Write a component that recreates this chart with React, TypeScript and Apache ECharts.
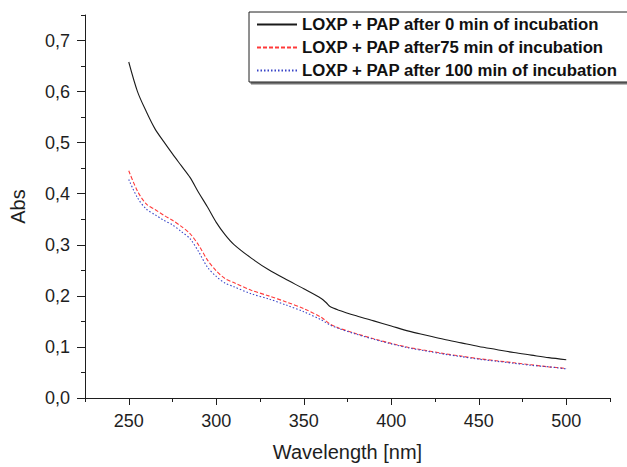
import React, { useEffect, useRef } from "react";
import * as echarts from "echarts";

const wavelengths = [250, 255, 260, 265, 270, 275, 280, 285, 290, 295, 300, 305, 310, 320, 330, 340, 350, 360, 363, 365, 370, 380, 390, 400, 410, 420, 430, 440, 450, 460, 470, 480, 490, 500];

const abs0min = [0.658, 0.600, 0.561, 0.527, 0.502, 0.478, 0.455, 0.432, 0.402, 0.374, 0.344, 0.320, 0.301, 0.274, 0.251, 0.232, 0.214, 0.195, 0.186, 0.179, 0.172, 0.161, 0.151, 0.141, 0.131, 0.123, 0.115, 0.108, 0.101, 0.095, 0.089, 0.084, 0.079, 0.075];

const abs75min = [0.445, 0.405, 0.380, 0.369, 0.358, 0.348, 0.336, 0.322, 0.299, 0.270, 0.249, 0.234, 0.226, 0.211, 0.200, 0.188, 0.175, 0.158, 0.150, 0.145, 0.137, 0.126, 0.116, 0.107, 0.099, 0.093, 0.087, 0.082, 0.077, 0.073, 0.069, 0.065, 0.061, 0.058];

const abs100min = [0.428, 0.392, 0.370, 0.359, 0.348, 0.339, 0.326, 0.312, 0.286, 0.256, 0.238, 0.225, 0.218, 0.204, 0.194, 0.182, 0.169, 0.153, 0.147, 0.143, 0.136, 0.125, 0.115, 0.106, 0.098, 0.092, 0.086, 0.081, 0.076, 0.072, 0.068, 0.064, 0.061, 0.057];

const seriesNames = [
  "LOXP + PAP after 0 min of incubation",
  "LOXP + PAP after75 min of incubation",
  "LOXP + PAP after 100 min of incubation",
];

const xMajorTicks = [250, 300, 350, 400, 450, 500];
const xMinorTicks = [225, 275, 325, 375, 425, 475, 525];
const yMajorTicks = [0, 0.1, 0.2, 0.3, 0.4, 0.5, 0.6, 0.7];
const yMinorTicks = [0.05, 0.15, 0.25, 0.35, 0.45, 0.55, 0.65, 0.75];

const FONT = "'Liberation Sans', Arial, Helvetica, sans-serif";
const INK = "#1e1e1e";

export default function App() {
  const ref = useRef<HTMLDivElement>(null);

  useEffect(() => {
    if (!ref.current) return;
    const chart = echarts.init(ref.current, undefined, { renderer: "svg" });
    const pairs = (vals: number[]) => wavelengths.map((w, i) => [w, vals[i]]);

    const baseX = { type: "value", min: 225, max: 525, gridIndex: 0 };
    const baseY = { type: "value", min: 0, max: 0.75, gridIndex: 0 };

    chart.setOption({
      animation: false,
      backgroundColor: "#ffffff",
      textStyle: { fontFamily: FONT },
      grid: { left: 85, right: 17, top: 15, bottom: 65, containLabel: false },
      legend: {
        orient: "vertical",
        left: 249,
        top: 12,
        padding: [4, 12, 3, 7],
        itemWidth: 40,
        itemHeight: 14,
        itemGap: 6,
        backgroundColor: "#ffffff",
        borderColor: INK,
        borderWidth: 1,
        shadowColor: "rgba(0,0,0,0.55)",
        shadowBlur: 0,
        shadowOffsetX: 2,
        shadowOffsetY: 2,
        itemStyle: { opacity: 0 },
        textStyle: { fontFamily: FONT, fontSize: 16.75, fontWeight: "bold", color: "#111" },
        data: seriesNames,
      },
      xAxis: [
        {
          ...baseX,
          position: "bottom",
          name: "Wavelength [nm]",
          nameLocation: "middle",
          nameGap: 44,
          nameTextStyle: { fontFamily: FONT, fontSize: 20, color: INK },
          axisLine: { show: true, onZero: false, lineStyle: { color: INK, width: 1 } },
          axisTick: { show: true, length: 7, lineStyle: { color: INK }, customValues: xMajorTicks },
          axisLabel: { show: true, margin: 14, fontFamily: FONT, fontSize: 18, color: INK, customValues: xMajorTicks },
          splitLine: { show: false },
        },
        {
          ...baseX,
          position: "bottom",
          axisLine: { show: false, onZero: false },
          axisTick: { show: true, length: 4, lineStyle: { color: INK }, customValues: xMinorTicks },
          axisLabel: { show: false },
          splitLine: { show: false },
        },
      ],
      yAxis: [
        {
          ...baseY,
          position: "left",
          name: "Abs",
          nameLocation: "middle",
          nameGap: 57,
          nameRotate: 90,
          nameTextStyle: { fontFamily: FONT, fontSize: 20, color: INK },
          axisLine: { show: true, onZero: false, lineStyle: { color: INK, width: 1 } },
          axisTick: { show: true, length: 8, lineStyle: { color: INK }, customValues: yMajorTicks },
          axisLabel: {
            show: true,
            margin: 15,
            fontFamily: FONT,
            fontSize: 18,
            color: INK,
            customValues: yMajorTicks,
            formatter: (v: number) => v.toFixed(1).replace(".", ","),
          },
          splitLine: { show: false },
        },
        {
          ...baseY,
          position: "left",
          axisLine: { show: false, onZero: false },
          axisTick: { show: true, length: 4, lineStyle: { color: INK }, customValues: yMinorTicks },
          axisLabel: { show: false },
          splitLine: { show: false },
        },
      ],
      series: [
        {
          name: seriesNames[0],
          type: "line",
          xAxisIndex: 0,
          yAxisIndex: 0,
          data: pairs(abs0min),
          showSymbol: false,
          symbol: "none",
          smooth: 0.3,
          color: "#1a1a1a",
          lineStyle: { color: "#1a1a1a", width: 1.1, type: "solid" },
        },
        {
          name: seriesNames[1],
          type: "line",
          xAxisIndex: 0,
          yAxisIndex: 0,
          data: pairs(abs75min),
          showSymbol: false,
          symbol: "none",
          smooth: 0.3,
          color: "#ff3a3a",
          lineStyle: { color: "#ff3a3a", width: 1.1, type: [4, 2] },
        },
        {
          name: seriesNames[2],
          type: "line",
          xAxisIndex: 0,
          yAxisIndex: 0,
          data: pairs(abs100min),
          showSymbol: false,
          symbol: "none",
          smooth: 0.3,
          color: "#3845c8",
          lineStyle: { color: "#3845c8", width: 1.1, type: [1.5, 2] },
        },
      ],
    });
    return () => chart.dispose();
  }, []);

  return (
    <div
      ref={ref}
      style={{ position: "fixed", left: 0, top: 0, width: 627, height: 467 }}
    />
  );
}
